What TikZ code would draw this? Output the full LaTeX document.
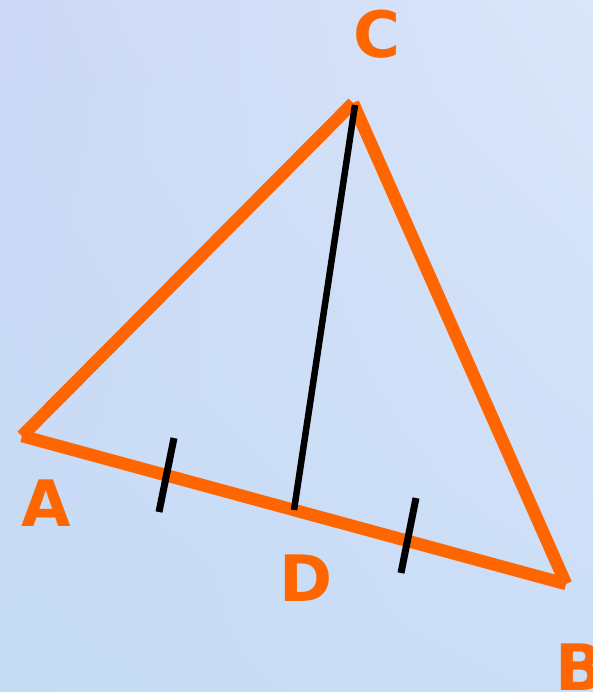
\documentclass[tikz,border=0pt]{standalone}
\usepackage{fontspec}
\newfontfamily\lblfont{DejaVu Sans}
\usetikzlibrary{calc, shadings}
\usepackage{xcolor}
\definecolor{triorange}{HTML}{FF6600}
\definecolor{bgtl}{HTML}{CCD8F6}
\definecolor{bgtr}{HTML}{DAE6F9}
\definecolor{bgbl}{HTML}{C6DCF5}
\definecolor{bgbr}{HTML}{CBDDF7}

\tikzset{
  side/.style={draw=triorange, line width=12.5pt, line cap=butt},
  median/.style={draw=black, line width=6.5pt, line cap=butt},
  tick/.style={draw=black, line width=7pt, line cap=butt},
  vlabel/.style={text=triorange, font=\lblfont\bfseries\fontsize{64}{64}\selectfont, inner sep=0pt}
}

\begin{document}
\begin{tikzpicture}[x=1pt, y=-1pt]
  \useasboundingbox (0,0) rectangle (593,692);

  % Background
  \shade[upper left=bgtl, upper right=bgtr, lower left=bgbl, lower right=bgbr]
    (0,0) rectangle (593,692);

  % Vertices
  \coordinate (A) at (22,436);
  \coordinate (B) at (566,584);
  \coordinate (C) at (353,103);
  \coordinate (D) at ($(A)!0.5!(B)$);

  % Triangle sides
  \draw[side] (A) -- (C);
  \draw[side] (C) -- (B);
  \draw[side] (B) -- (A);

  % Median
  \coordinate (Ctop) at (355,105);
  \draw[median] (Ctop) -- (D);

  % Equal marks
  \coordinate (t1a) at (174,438);
  \coordinate (t1b) at (159,512);
  \coordinate (t2a) at (416,498);
  \coordinate (t2b) at (401,573);
  \draw[tick] (t1a) -- (t1b);
  \draw[tick] (t2a) -- (t2b);

  % Labels
  \node[vlabel] (lblA) at (46,503) {A};
  \node[vlabel] (lblB) at (580,667) {B};
  \node[vlabel] (lblC) at (377,34) {C};
  \node[vlabel] (lblD) at (306,578) {D};
\end{tikzpicture}
\end{document}
